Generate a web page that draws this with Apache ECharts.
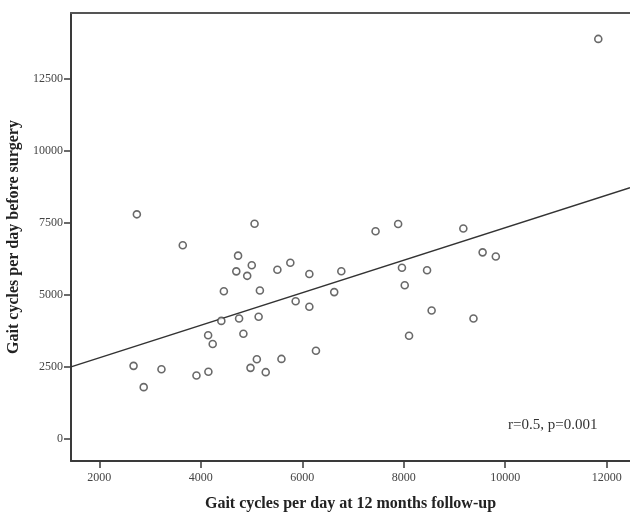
<!DOCTYPE html>
<html>
<head>
<meta charset="utf-8">
<script src="https://cdn.jsdelivr.net/npm/echarts@6/dist/echarts.min.js"></script>
<style>html,body{margin:0;padding:0;background:#fff}#c{width:630px;height:512px}</style>
</head>
<body>
<div id="c"></div>
<script>
// Data
var followUpSteps = [2740,5060,3645,4735,4700,5005,4915,5510,5765,6140,4455,5165,5870,6140,4405,4755,5140,4145,4235,4840,6270,2675,3225,2875,3915,4150,4980,5105,5280,5590,6770,6630,7445,7890,7965,8020,8105,8460,8550,9175,9375,9555,9815,11835];
var preSurgerySteps = [7800,7475,6725,6365,5820,6030,5665,5875,6120,5730,5130,5155,4780,4590,4100,4185,4245,3600,3300,3655,3065,2540,2420,1800,2205,2335,2470,2770,2320,2780,5825,5100,7215,7465,5945,5340,3585,5860,4460,7310,4185,6480,6335,13890];
var fitLineX = [1442, 12460];
var fitLineY = [2505, 8725];
var xTicks = [2000,4000,6000,8000,10000,12000];
var yTicks = [0,2500,5000,7500,10000,12500];
var xRange = [1442, 12460];
var yRange = [-764, 14790];
var xTitle = 'Gait cycles per day at 12 months follow-up';
var yTitle = 'Gait cycles per day before surgery';
var annotation = 'r=0.5, p=0.001';

var points = followUpSteps.map(function(x,i){return [x, preSurgerySteps[i]];});
var fit = fitLineX.map(function(x,i){return [x, fitLineY[i]];});
var serif = '"Liberation Serif","DejaVu Serif",serif';
function plain(v){ return String(v); }

var chart = echarts.init(document.getElementById('c'), null, {renderer:'canvas'});
chart.setOption({
  animation:false,
  backgroundColor:'#fff',
  grid:{left:71, right:0, top:13, bottom:51, containLabel:false, outerBoundsMode:'none'},
  xAxis:[{
    type:'value', min:xRange[0], max:xRange[1], position:'bottom',
    name:xTitle, nameLocation:'middle', nameGap:35,
    nameTextStyle:{fontFamily:serif, fontWeight:'bold', fontSize:16, color:'#222'},
    axisLine:{show:true, onZero:false, lineStyle:{color:'#3a3a3a', width:2}},
    axisTick:{show:true, length:7, customValues:xTicks, lineStyle:{color:'#3a3a3a', width:1.5}},
    axisLabel:{customValues:xTicks, formatter:plain, fontFamily:serif, fontSize:12, color:'#444', margin:11},
    splitLine:{show:false}
  },{
    type:'value', min:xRange[0], max:xRange[1], position:'top',
    axisLine:{show:true, onZero:false, lineStyle:{color:'#555', width:2}},
    axisTick:{show:false}, axisLabel:{show:false}, splitLine:{show:false}
  }],
  yAxis:{
    type:'value', min:yRange[0], max:yRange[1],
    name:yTitle, nameLocation:'middle', nameGap:44, nameRotate:90,
    nameTextStyle:{fontFamily:serif, fontWeight:'bold', fontSize:16, color:'#222'},
    axisLine:{show:true, onZero:false, lineStyle:{color:'#3a3a3a', width:2}},
    axisTick:{show:true, length:7, customValues:yTicks, lineStyle:{color:'#3a3a3a', width:1.5}},
    axisLabel:{customValues:yTicks, formatter:plain, fontFamily:serif, fontSize:12, color:'#444', margin:8},
    splitLine:{show:false}
  },
  series:[{
    type:'line', data:fit, symbol:'none', silent:true, clip:true,
    lineStyle:{color:'#333', width:1.5}, z:1
  },{
    type:'scatter', data:points, symbol:'circle', symbolSize:7,
    itemStyle:{color:'#fff', borderColor:'#444', borderWidth:1.6}, z:2
  }],
  graphic:[{
    type:'text', left:508, top:418,
    style:{text:annotation, font:'15px ' + serif, fill:'#333'}
  }]
});
</script>
</body>
</html>
